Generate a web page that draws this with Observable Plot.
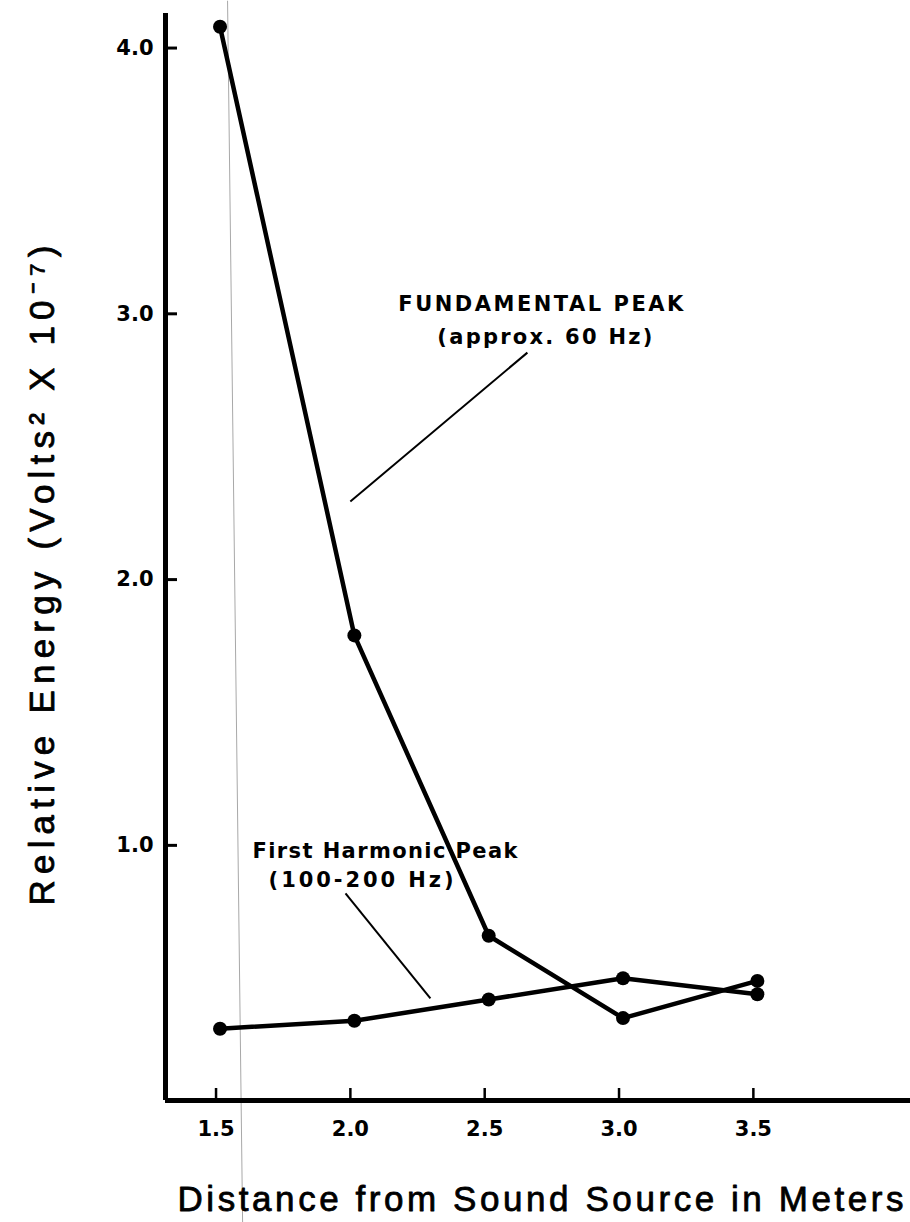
<!DOCTYPE html>
<html>
<head>
<meta charset="utf-8">
<script src="https://cdn.jsdelivr.net/npm/d3@7"></script>
<script src="https://cdn.jsdelivr.net/npm/@observablehq/plot@0.6"></script>
<style>
  html, body { margin: 0; padding: 0; background: #fff; }
  #chart svg { display: block; }
</style>
</head>
<body>
<div id="chart"></div>
<script>
// ---- data ----
const distances = [1.5, 2.0, 2.5, 3.0, 3.5];
const fundamentalPeak = [4.08, 1.79, 0.66, 0.35, 0.49];
const firstHarmonicPeak = [0.31, 0.34, 0.42, 0.50, 0.44];

const xTicks = [1.5, 2.0, 2.5, 3.0, 3.5];
const yTicks = [1.0, 2.0, 3.0, 4.0];
const xDomain = [1.297, 4.07];
const yDomain = [0.04, 4.13];

const xTitle = "Distance from Sound Source in Meters";
const yTitle = "Relative Energy (Volts² X 10⁻⁷)";

const labelTexts = ["FUNDAMENTAL PEAK", "(approx. 60 Hz)", "First Harmonic Peak", "(100-200 Hz)"];
const labelX = [2.694, 2.709, 2.114, 2.025];
const labelY = [3.012, 2.888, 0.954, 0.845];

const leaderX1 = [2.644, 1.967];
const leaderY1 = [2.854, 0.819];
const leaderX2 = [1.985, 2.283];
const leaderY2 = [2.294, 0.424];

// faint vertical scan line visible in the reference
const scanLineX = [1.528, 1.584];
const scanLineY = [4.178, -0.419];

// ---- build tables ----
const rows = [
  ...distances.map((d, i) => ({distance: d, energy: fundamentalPeak[i], series: "fundamental"})),
  ...distances.map((d, i) => ({distance: d, energy: firstHarmonicPeak[i], series: "harmonic"}))
];
const leaders = leaderX1.map((x, i) => ({x1: x, y1: leaderY1[i], x2: leaderX2[i], y2: leaderY2[i]}));
const scan = [{x1: scanLineX[0], y1: scanLineY[0], x2: scanLineX[1], y2: scanLineY[1]}];
const labels = labelTexts.map((t, i) => ({text: t, x: labelX[i], y: labelY[i]}));

const fmt = d3.format(".1f");
const boldFont = "'DejaVu Sans', sans-serif";
const titleFont = "'Liberation Sans', Arial, sans-serif";

const chart = Plot.plot({
  width: 910,
  height: 1222,
  marginLeft: 165,
  marginRight: 0,
  marginTop: 13,
  marginBottom: 122,
  x: {domain: xDomain},
  y: {domain: yDomain},
  style: {background: "#fff", color: "#000", fontFamily: boldFont},
  marks: [
    Plot.link(scan, {x1: "x1", y1: "y1", x2: "x2", y2: "y2", stroke: "#a8a8a8", strokeWidth: 1}),
    Plot.ruleX([xDomain[0]], {stroke: "#000", strokeWidth: 5}),
    Plot.ruleY([yDomain[0]], {stroke: "#000", strokeWidth: 5}),
    Plot.axisX({ticks: xTicks, tickSize: -12, tickPadding: 33, strokeWidth: 2.5, tickFormat: fmt,
                fontSize: 21, fontWeight: "bold", dx: -4, label: null}),
    Plot.axisY({ticks: yTicks, tickSize: -12, tickPadding: 24, strokeWidth: 3, tickFormat: fmt,
                fontSize: 21, fontWeight: "bold", label: null}),
    Plot.line(rows, {x: "distance", y: "energy", z: "series", stroke: "#000", strokeWidth: 4.5, strokeLinejoin: "round"}),
    Plot.dot(rows, {x: "distance", y: "energy", r: 7, fill: "#000"}),
    Plot.link(leaders, {x1: "x1", y1: "y1", x2: "x2", y2: "y2", stroke: "#000", strokeWidth: 2}),
    Plot.text(labels, {x: "x", y: "y", text: "text", fontSize: 21, fontWeight: "bold",
                       lineAnchor: "bottom", textAnchor: "middle"}),
    Plot.text([xTitle], {frameAnchor: "bottom", dy: 110, dx: 2.5, lineAnchor: "bottom", textAnchor: "middle",
                         fontSize: 35, fontFamily: titleFont, stroke: "#000", strokeWidth: 0.8, fill: "#000"}),
    Plot.text([yTitle], {frameAnchor: "left", rotate: -90, dx: -112, dy: 18.5, lineAnchor: "bottom", textAnchor: "middle",
                         fontSize: 35, fontFamily: titleFont, stroke: "#000", strokeWidth: 0.8, fill: "#000"})
  ]
});

// stretch the widely tracked lettering of the original to its measured length
const textLengths = new Map([
  [labelTexts[0], 285], [labelTexts[1], 215], [labelTexts[2], 265], [labelTexts[3], 185],
  [xTitle, 726], [yTitle, 660]
]);
chart.querySelectorAll("text").forEach(t => {
  const len = textLengths.get(t.textContent);
  if (len) {
    t.setAttribute("textLength", len);
    t.setAttribute("lengthAdjust", "spacing");
  }
});

document.getElementById("chart").appendChild(chart);
</script>
</body>
</html>
